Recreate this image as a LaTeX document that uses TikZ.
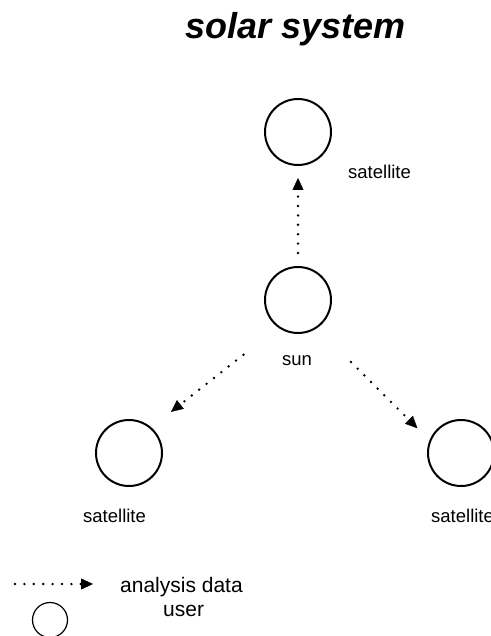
\documentclass[tikz,border=0pt]{standalone}
\usepackage{fontspec}
\setmainfont{Liberation Sans}
\usetikzlibrary{arrows.meta}
\tikzset{body/.style = {draw, circle, line width=2pt, minimum size=66pt, inner sep=0pt},
         caption/.style = {anchor=base west, inner sep=0pt, font=\fontsize{18.5}{22}\selectfont},
         keytext/.style = {anchor=base west, inner sep=0pt, font=\fontsize{21}{25}\selectfont},
         dataflow/.style = {line width=2.7pt, line cap=round, dash pattern=on 0pt off 9.4pt,
                            -{Triangle[length=12pt, width=11pt, line width=0.4pt]}}}

\begin{document}
\begin{tikzpicture}[x=1pt, y=-1pt]
    \useasboundingbox (0, 0) rectangle (490, 636);

    \node [anchor=base west, inner sep=0pt, font=\fontsize{36}{40}\selectfont\bfseries\itshape] (title) at (185, 39) {solar system};

    \node [body] (sun) at (298, 300) {};
    \node [body] (north) at (298, 132) {};
    \node [body] (west) at (129, 453) {};
    \node [body] (east) at (461, 453) {};

    \node [caption, anchor=base] (sunlabel) at (297, 365) {sun};
    \node [caption] (northlabel) at (348, 179) {satellite};
    \node [caption] (westlabel) at (83, 522) {satellite};
    \node [caption] (eastlabel) at (431, 522) {satellite};

    \draw [dataflow, shorten <=13pt, shorten >=12pt] (sun.90) -- (north.270);
    \draw [dataflow, shorten <=44pt, shorten >=25pt] (sun.234) -- (west.49);
    \draw [dataflow, shorten <=48pt, shorten >=17pt] (sun.-56) -- (east.158);

    \coordinate (keystart) at (15, 584);
    \coordinate (keyend) at (93, 584);
    \draw [dataflow] (keystart) -- (keyend);
    \node [keytext] (keydata) at (120, 592) {analysis data};
    \node [draw, circle, line width=1.2pt, minimum size=35pt, inner sep=0pt] (keyuser) at (50, 620) {};
    \node [keytext] (keyuserlabel) at (163, 616) {user};
\end{tikzpicture}
\end{document}
